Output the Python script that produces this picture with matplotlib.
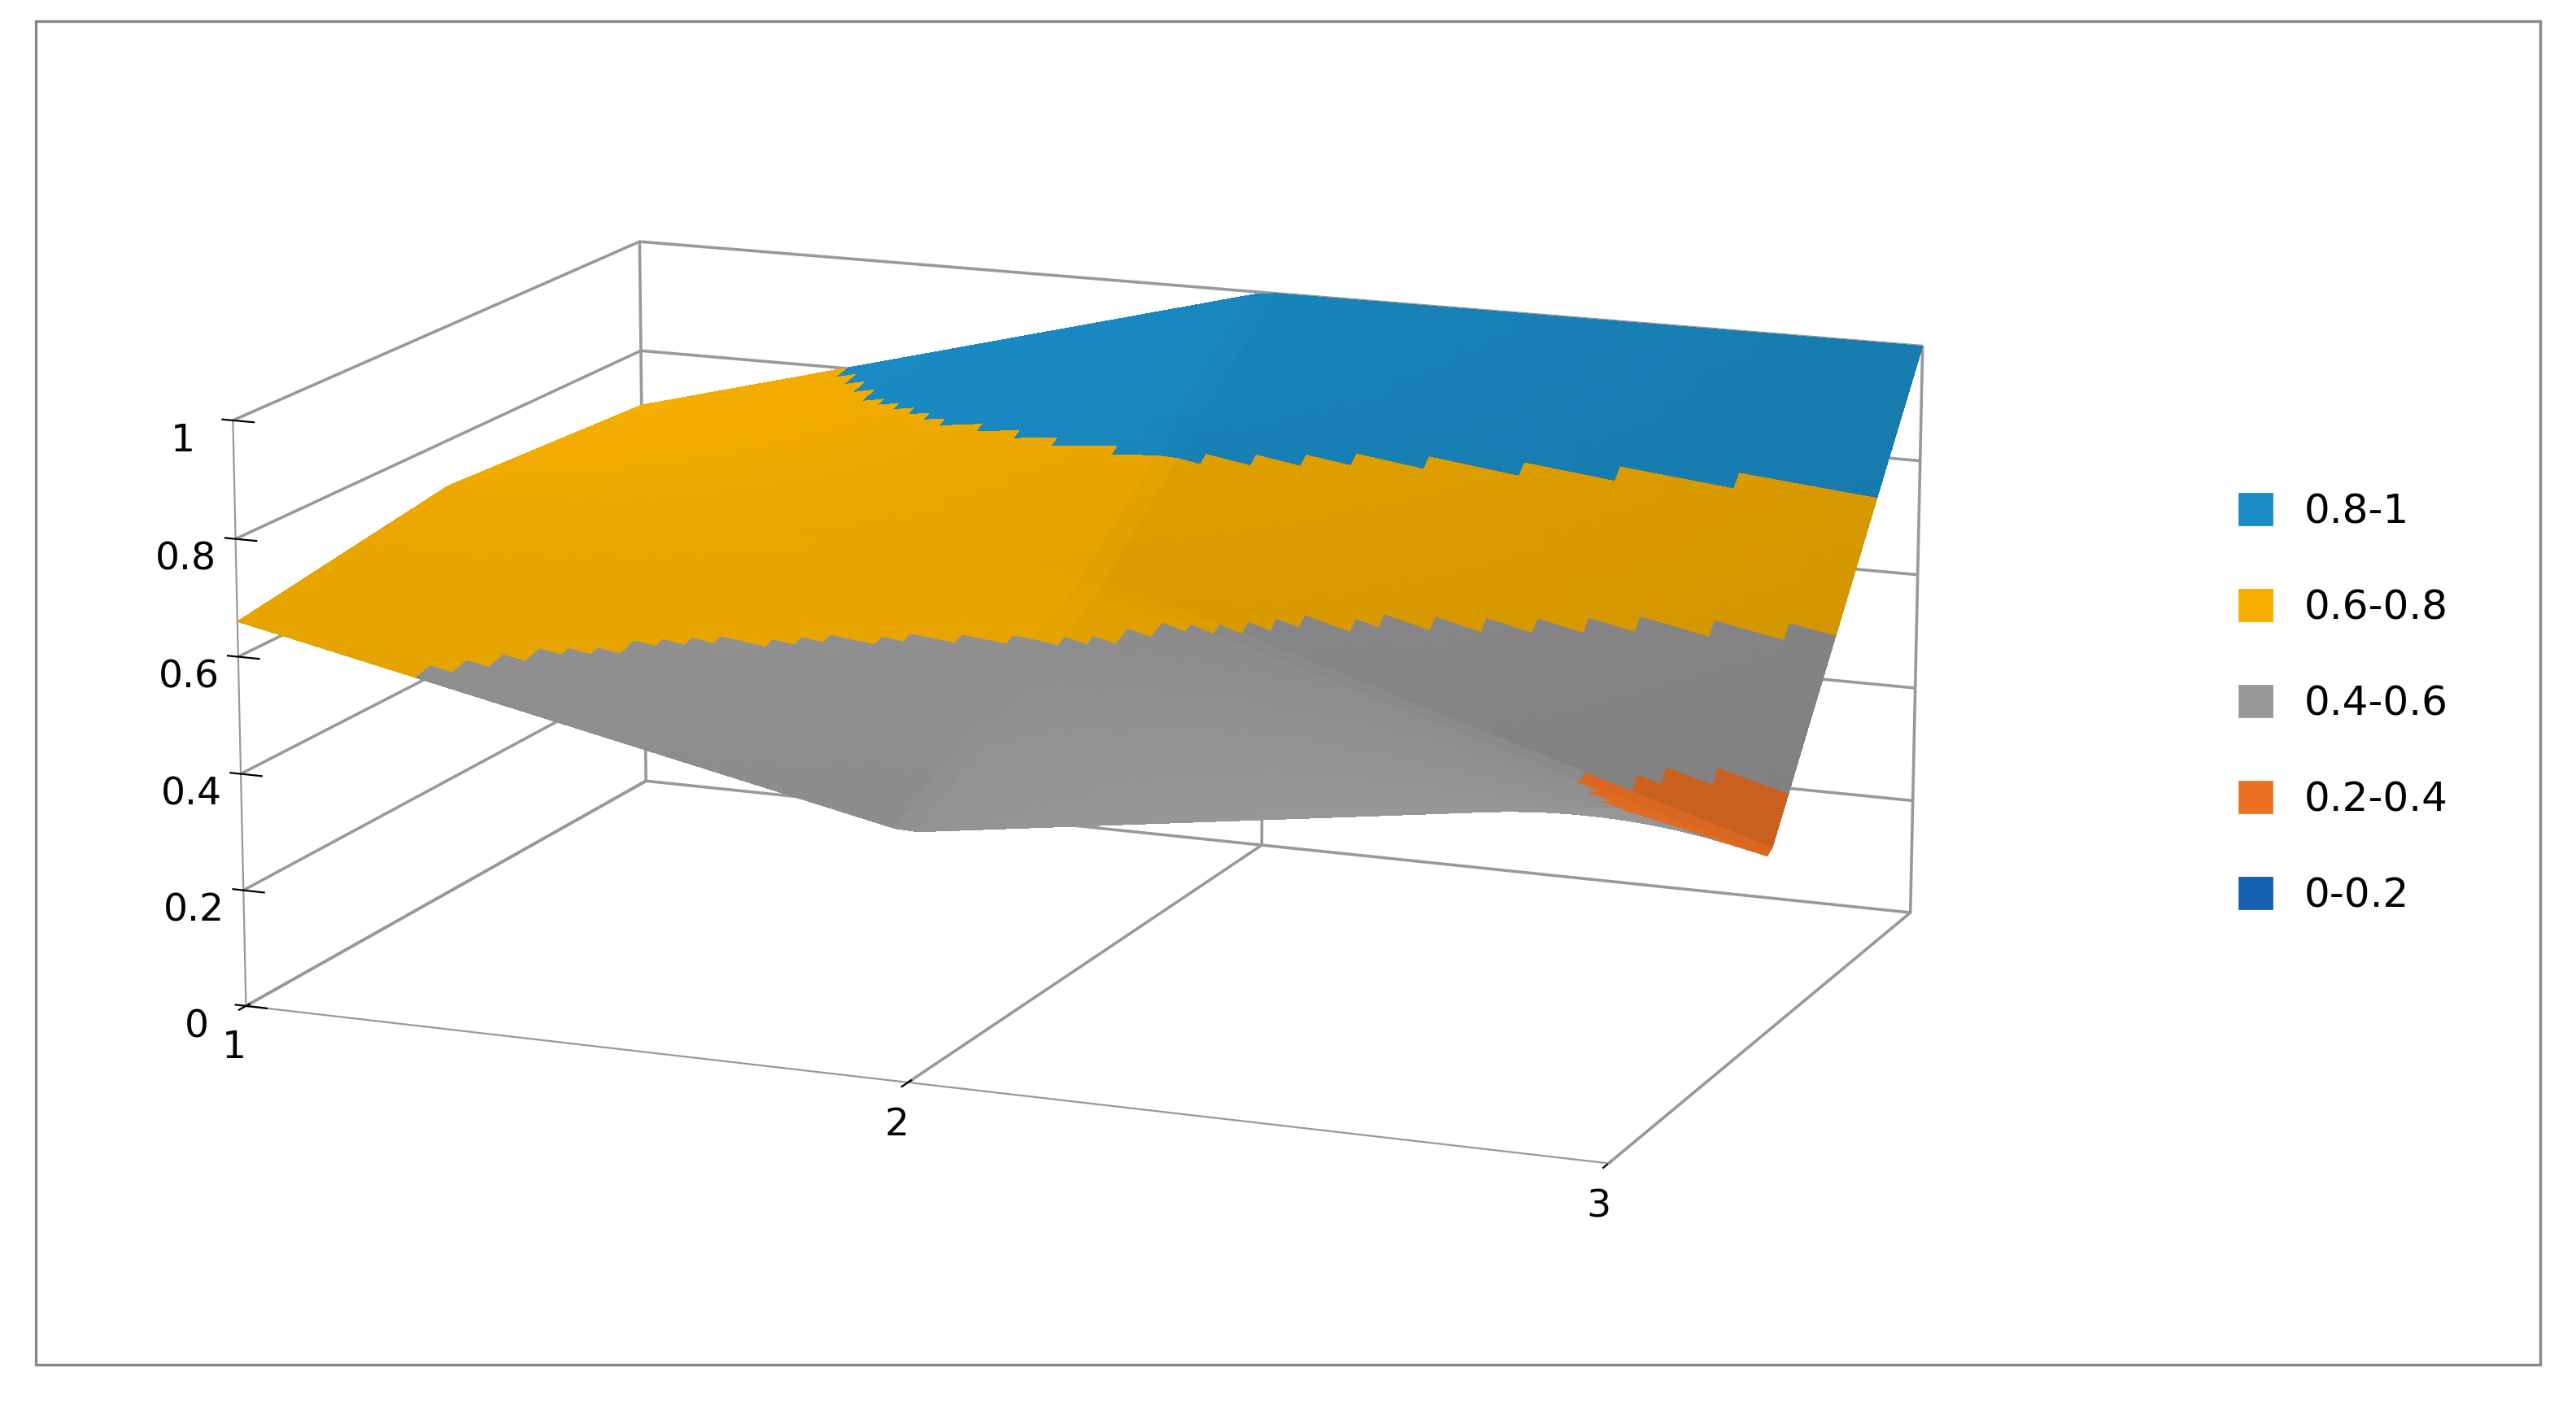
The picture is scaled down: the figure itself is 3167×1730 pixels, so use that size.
import numpy as np
import matplotlib
matplotlib.use("Agg")
import matplotlib.pyplot as plt
from matplotlib.colors import ListedColormap, BoundaryNorm
from matplotlib.patches import Patch, Rectangle

x_labels = ["1", "2", "3"]
series = ["S1", "S2", "S3"]
z_front = [0.66, 0.42, 0.58]
z_mid = [0.72, 0.66, 0.30]
z_back = [0.70, 1.00, 1.00]
bands = ["0-0.2", "0.2-0.4", "0.4-0.6", "0.6-0.8", "0.8-1"]
band_colors = ["#1560b0", "#ed7124", "#989898", "#f5ae00", "#1a8cc6"]

Z = np.array([z_front, z_mid, z_back])

# fine render mesh (bilinear within each cell) only for band colouring
n = 60
u = np.linspace(0, 2, n)
U, V = np.meshgrid(u, u)
i = np.clip(np.floor(V).astype(int), 0, 1); j = np.clip(np.floor(U).astype(int), 0, 1)
fv = V - i; fu = U - j
ZF = (Z[i, j] * (1 - fu) * (1 - fv) + Z[i, j + 1] * fu * (1 - fv)
      + Z[i + 1, j] * (1 - fu) * fv + Z[i + 1, j + 1] * fu * fv)

fig = plt.figure(figsize=(15.835, 8.65), dpi=200)
fig.add_artist(Rectangle((0.014, 0.03), 0.972, 0.955, transform=fig.transFigure,
                         fill=False, ec="#888888", lw=1.2))
ax = fig.add_axes([-0.06, -0.12, 0.95, 1.25], projection="3d")
cmap = ListedColormap(band_colors)
norm = BoundaryNorm([0, 0.2, 0.4, 0.6, 0.8, 1.0001], 5)
avg = (ZF[:-1, :-1] + ZF[1:, :-1] + ZF[:-1, 1:] + ZF[1:, 1:]) / 4
fc = cmap(norm(avg))
ax.plot_surface(U, V, ZF, facecolors=fc, shade=True, linewidth=0, antialiased=False,
                rstride=1, cstride=1, lightsource=matplotlib.colors.LightSource(azdeg=300, altdeg=70))
ax.set_zlim(0, 1)
ax.set_xlim(0, 2); ax.set_ylim(0, 2)
ax.set_xticks([0, 1, 2]); ax.set_xticklabels(x_labels, fontsize=17)
ax.set_yticks([]); ax.set_zticks([0, 0.2, 0.4, 0.6, 0.8, 1.0])
ax.set_zticklabels(["0", "0.2", "0.4", "0.6", "0.8", "1"], fontsize=17)
ax.zaxis._axinfo["juggled"] = (1, 2, 0)
ax.view_init(elev=14, azim=-68)
for a in (ax.xaxis, ax.yaxis, ax.zaxis):
    a.set_pane_color((1, 1, 1, 0))
    a.line.set_color("#999999")
    a._axinfo["grid"]["color"] = "#999999"
    a._axinfo["grid"]["linewidth"] = 1.3
ax.set_box_aspect((2.4, 1.6, 1.0))
handles = [Patch(color=c, label=l) for c, l in zip(band_colors[::-1], bands[::-1])]
fig.legend(handles=handles, loc="center left", bbox_to_anchor=(0.855, 0.5), frameon=False,
           fontsize=18, labelspacing=1.4, handlelength=0.8, handleheight=0.8)
fig.savefig("out.png", dpi=200)
